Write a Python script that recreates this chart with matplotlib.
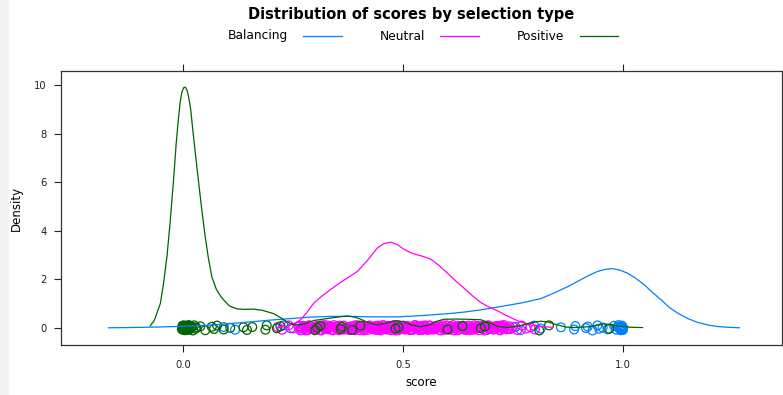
import matplotlib
matplotlib.use('Agg')
import matplotlib.pyplot as plt
from matplotlib.lines import Line2D
from matplotlib.patches import Rectangle
import numpy as np

# ── data ────────────────────────────────────────────────
groups = ["Balancing", "Neutral", "Positive"]
colors = {"Balancing": "#0080ff", "Neutral": "#ff00ff", "Positive": "#006400"}

# density curves (score, density)
bal_x = [-0.17, -0.12, -0.06, 0.0, 0.05, 0.092, 0.15, 0.20, 0.244, 0.29, 0.335, 0.38,
         0.43, 0.487, 0.54, 0.601, 0.64, 0.677, 0.72, 0.768, 0.813, 0.843, 0.875,
         0.904, 0.925, 0.942, 0.96, 0.976, 0.993, 1.011, 1.03, 1.049, 1.068, 1.087,
         1.105, 1.125, 1.148, 1.17, 1.195, 1.216, 1.24, 1.265]
bal_y = [0.0, 0.01, 0.03, 0.06, 0.1, 0.15, 0.24, 0.32, 0.38, 0.44, 0.47, 0.47,
         0.45, 0.45, 0.5, 0.58, 0.65, 0.74, 0.87, 1.02, 1.2, 1.43, 1.7,
         1.98, 2.18, 2.32, 2.41, 2.44, 2.38, 2.25, 2.03, 1.77, 1.45, 1.15,
         0.85, 0.6, 0.38, 0.22, 0.11, 0.05, 0.02, 0.0]

neu_x = [0.215, 0.236, 0.255, 0.267, 0.282, 0.297, 0.315, 0.333, 0.35, 0.373, 0.396,
         0.42, 0.441, 0.456, 0.472, 0.487, 0.502, 0.517, 0.532, 0.548, 0.563, 0.582,
         0.601, 0.62, 0.639, 0.658, 0.677, 0.695, 0.714, 0.733, 0.752, 0.77, 0.79,
         0.815, 0.84]
neu_y = [0.02, 0.06, 0.2, 0.33, 0.65, 1.02, 1.3, 1.55, 1.77, 2.05, 2.32,
         2.8, 3.28, 3.47, 3.53, 3.43, 3.24, 3.1, 3.01, 2.93, 2.83, 2.57,
         2.25, 1.93, 1.63, 1.32, 1.04, 0.86, 0.71, 0.52, 0.36, 0.22, 0.12,
         0.05, 0.02]

pos_x = [-0.075, -0.066, -0.06, -0.052, -0.045, -0.037, -0.03, -0.022, -0.016, -0.011,
         -0.007, -0.003, 0.001, 0.005, 0.009, 0.013, 0.017, 0.021, 0.027, 0.035,
         0.042, 0.05, 0.057, 0.065, 0.075, 0.085, 0.092, 0.105, 0.122, 0.14, 0.16,
         0.18, 0.195, 0.206, 0.221, 0.235, 0.251, 0.265, 0.28, 0.297, 0.32, 0.335,
         0.355, 0.373, 0.39, 0.403, 0.42, 0.441, 0.46, 0.475, 0.487, 0.5, 0.52, 0.54,
         0.56, 0.575, 0.593, 0.62, 0.65, 0.677, 0.7, 0.714, 0.737, 0.76, 0.79, 0.813,
         0.83, 0.851, 0.87, 0.889, 0.92, 0.945, 0.957, 0.975, 0.995, 1.02, 1.045]
pos_y = [0.08, 0.3, 0.6, 1.0, 1.8, 2.94, 4.3, 6.1, 7.6, 8.6,
         9.3, 9.72, 9.9, 9.92, 9.78, 9.45, 9.0, 8.3, 7.3, 6.0,
         4.9, 3.76, 2.9, 2.11, 1.6, 1.3, 1.15, 0.9, 0.78, 0.76, 0.77,
         0.72, 0.64, 0.58, 0.42, 0.26, 0.12, 0.12, 0.18, 0.3, 0.36, 0.4,
         0.45, 0.49, 0.44, 0.36, 0.22, 0.12, 0.18, 0.26, 0.29, 0.25, 0.12, 0.04,
         0.12, 0.26, 0.35, 0.36, 0.35, 0.33, 0.18, 0.06, 0.01, 0.06, 0.2, 0.27,
         0.24, 0.12, 0.03, 0.01, 0.04, 0.12, 0.16, 0.13, 0.06, 0.02, 0.01]

# raw scores (rug points)
bal_scores = [0.092, 0.118, 0.228, 0.244, 0.263, 0.27, 0.278, 0.31, 0.741, 0.756,
              0.768, 0.798, 0.813, 0.859, 0.889, 0.892, 0.916, 0.92, 0.931, 0.942,
              0.946, 0.954, 0.965, 0.98, 0.985, 0.988, 0.99, 0.992, 0.994, 0.995,
              0.996, 0.997, 0.998, 0.999, 1.0, 1.0, 1.0, 0.993, 0.997]
neu_scores = [0.215, 0.225, 0.24, 0.25, 0.262, 0.266, 0.27, 0.273, 0.277, 0.281, 0.284,
              0.288, 0.292, 0.295, 0.299, 0.303, 0.306, 0.31, 0.314, 0.317, 0.321,
              0.325, 0.328, 0.332, 0.336, 0.339, 0.343, 0.347, 0.35, 0.354, 0.358,
              0.361, 0.365, 0.369, 0.372, 0.376, 0.38, 0.383, 0.387, 0.391, 0.394,
              0.398, 0.402, 0.405, 0.409, 0.413, 0.416, 0.42, 0.424, 0.427, 0.431,
              0.435, 0.438, 0.442, 0.446, 0.449, 0.453, 0.457, 0.46, 0.464, 0.468,
              0.471, 0.475, 0.479, 0.482, 0.486, 0.49, 0.493, 0.497, 0.501, 0.504,
              0.508, 0.512, 0.515, 0.519, 0.523, 0.526, 0.53, 0.534, 0.537, 0.541,
              0.545, 0.548, 0.552, 0.556, 0.559, 0.563, 0.567, 0.57, 0.574, 0.578,
              0.581, 0.585, 0.589, 0.592, 0.596, 0.6, 0.603, 0.607, 0.611, 0.614,
              0.618, 0.622, 0.625, 0.629, 0.633, 0.636, 0.64, 0.644, 0.647, 0.651,
              0.655, 0.658, 0.662, 0.666, 0.669, 0.673, 0.677, 0.68, 0.684, 0.688,
              0.691, 0.695, 0.699, 0.702, 0.706, 0.71, 0.713, 0.717, 0.721, 0.724,
              0.728, 0.732, 0.736, 0.44, 0.445, 0.45, 0.455, 0.465, 0.47, 0.473,
              0.478, 0.48, 0.485, 0.488, 0.5, 0.51, 0.52, 0.53, 0.54, 0.55, 0.56,
              0.38, 0.39, 0.4, 0.41, 0.745, 0.75, 0.76, 0.77, 0.78, 0.79, 0.80,
              0.264, 0.268, 0.275, 0.279, 0.286, 0.29, 0.297, 0.301, 0.308, 0.312,
              0.319, 0.323, 0.33, 0.334, 0.341, 0.345, 0.352, 0.356, 0.363, 0.367,
              0.374, 0.378, 0.385, 0.389, 0.396, 0.4, 0.407, 0.411, 0.418, 0.422,
              0.429, 0.433, 0.44, 0.444, 0.451, 0.455, 0.462, 0.466, 0.473, 0.477,
              0.484, 0.488, 0.495, 0.499, 0.506, 0.51, 0.517, 0.521, 0.528, 0.532,
              0.539, 0.543, 0.55, 0.554, 0.561, 0.565, 0.572, 0.576, 0.583, 0.587,
              0.594, 0.598, 0.605, 0.609, 0.616, 0.62, 0.627, 0.631, 0.638, 0.642,
              0.649, 0.653, 0.66, 0.664, 0.671, 0.675, 0.682, 0.686, 0.693, 0.697,
              0.704, 0.708, 0.715, 0.719, 0.726, 0.73, 0.738, 0.742]
pos_scores = [0.0, 0.0, 0.001, 0.002, 0.003, 0.004, 0.005, 0.006, 0.007, 0.008, 0.009,
              0.01, 0.011, 0.012, 0.014, 0.015, 0.017, 0.02, 0.022, 0.025, 0.028, 0.03,
              -0.003, -0.002, 0.001, 0.004, 0.013, 0.018,
              0.039, 0.05, 0.065, 0.07, 0.077, 0.092, 0.107, 0.137, 0.145, 0.157,
              0.187, 0.19, 0.213, 0.221, 0.30, 0.305, 0.312, 0.358, 0.361, 0.384,
              0.403, 0.483, 0.49, 0.601, 0.635, 0.677, 0.686, 0.81, 0.832, 0.969]

# fixed vertical jitter offsets for the rug points
jitter = [0.03, -0.08, 0.1, -0.02, 0.06, -0.1, 0.0, 0.08, -0.05, 0.04, -0.09, 0.09,
          -0.03, 0.02, -0.07, 0.07, -0.01, 0.05, -0.11, 0.1, -0.04, 0.01, -0.06, 0.08,
          -0.08, 0.03, 0.11, -0.02, 0.06, -0.1, 0.04, -0.05, 0.09, -0.07, 0.0, 0.02, -0.09]

curves = {"Balancing": (bal_x, bal_y), "Neutral": (neu_x, neu_y), "Positive": (pos_x, pos_y)}
scores = {"Balancing": bal_scores, "Neutral": neu_scores, "Positive": pos_scores}

# ── figure ──────────────────────────────────────────────
W, H = 783, 395
fig = plt.figure(figsize=(W / 100, H / 100), dpi=100)
fig.patches.append(Rectangle((0, 0), 8 / W, 1, transform=fig.transFigure,
                             color='#f3f3f3', zorder=0))
ax = fig.add_axes([61 / W, 50 / H, 721 / W, 274 / H])

for g in groups:
    s = scores[g]
    yj = np.resize(jitter, len(s))
    ax.scatter(s, yj, s=40, facecolors='none', edgecolors=colors[g], linewidths=0.9)
    cx, cy = curves[g]
    ax.plot(cx, cy, color=colors[g], lw=0.9)

ax.set_xlim(-0.278, 1.362)
ax.set_ylim(-0.71, 10.59)
ax.set_xticks([0.0, 0.5, 1.0])
ax.set_xticklabels(["0.0", "0.5", "1.0"])
ax.set_yticks([0, 2, 4, 6, 8, 10])
ax.tick_params(direction='out', length=5, width=0.8, labelsize=7.2, colors='#222222',
               top=True, labeltop=False, right=False, pad=5.5)
for sp in ax.spines.values():
    sp.set_linewidth(0.9)
    sp.set_color('#333333')

fig.text(421 / W, 1 - 383 / H, "score", ha='center', va='center', fontsize=8.5)
fig.text(16 / W, 1 - 208 / H, "Density", ha='center', va='center', fontsize=8.5,
         rotation=90)
fig.text(411 / W, 1 - 15 / H, "Distribution of scores by selection type",
         ha='center', va='center', fontsize=10.5, fontweight='bold')

# legend on top
leg = [("Balancing", 228, 303, 342), ("Neutral", 380, 440, 479), ("Positive", 517, 580, 618)]
for name, tx, l0, l1 in leg:
    fig.text(tx / W, 1 - 36 / H, name, ha='left', va='center', fontsize=8.8)
    fig.add_artist(Line2D([l0 / W, l1 / W], [1 - 36 / H, 1 - 36 / H],
                          transform=fig.transFigure, color=colors[name], lw=0.9))

fig.savefig("out.png", dpi=100)
